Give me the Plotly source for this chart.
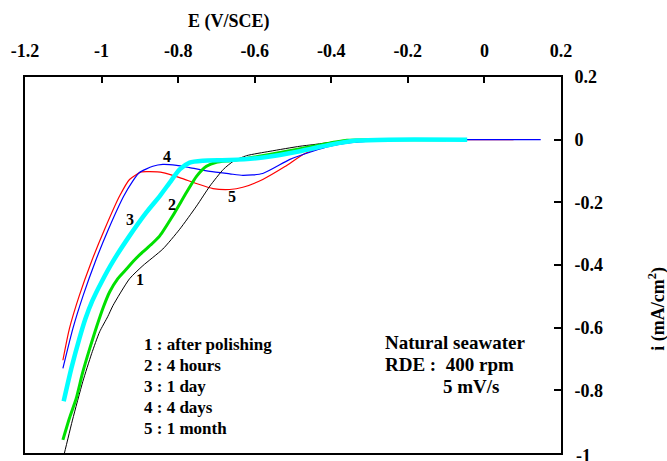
import plotly.graph_objects as go

# ---- data (E in V/SCE, i in mA/cm2) ----
# 1 : after polishing
e1 = [-1.107, -1.099, -1.076, -1.049, -1.026, -1.005, -0.984, -0.970, -0.927, -0.892, -0.840,
      -0.796, -0.752, -0.717, -0.682, -0.656, -0.621, -0.560, -0.482, -0.448, -0.359, -0.291,
      -0.100]
i1 = [-1.048, -1.010, -0.895, -0.772, -0.683, -0.613, -0.565, -0.529, -0.444, -0.402, -0.349,
      -0.286, -0.212, -0.148, -0.095, -0.069, -0.051, -0.037, -0.021, -0.016, -0.002, 0.0,
      0.0]
# 2 : 4 hours
e2 = [-1.101, -1.084, -1.066, -1.050, -1.031, -1.013, -0.995, -0.979, -0.958, -0.935, -0.914,
      -0.893, -0.869, -0.848, -0.814, -0.778, -0.752, -0.726, -0.700, -0.665, -0.621, -0.534,
      -0.448, -0.359, -0.281, -0.100]
i2 = [-0.958, -0.889, -0.825, -0.746, -0.667, -0.597, -0.533, -0.486, -0.444, -0.413, -0.384,
      -0.359, -0.333, -0.307, -0.243, -0.168, -0.117, -0.085, -0.072, -0.067, -0.060, -0.041,
      -0.021, -0.002, 0.0, 0.0]
# 3 : 1 day
e3 = [-1.099, -1.079, -1.058, -1.042, -1.024, -1.000, -0.971, -0.927, -0.883, -0.848, -0.822,
      -0.796, -0.770, -0.736, -0.665, -0.579, -0.482, -0.403, -0.333, -0.250, -0.045]
i3 = [-0.835, -0.730, -0.635, -0.571, -0.514, -0.454, -0.390, -0.307, -0.232, -0.180, -0.137,
      -0.095, -0.073, -0.067, -0.065, -0.057, -0.037, -0.016, -0.003, 0.0, 0.0]
# 4 : 4 days
e4 = [-1.101, -1.075, -1.048, -1.017, -0.982, -0.942, -0.919, -0.901, -0.866, -0.840, -0.804,
      -0.770, -0.717, -0.665, -0.631, -0.579, -0.508, -0.448, -0.403, -0.343, -0.272, -0.200,
      0.147]
i4 = [-0.730, -0.603, -0.497, -0.391, -0.286, -0.180, -0.133, -0.105, -0.085, -0.079, -0.082,
      -0.089, -0.101, -0.109, -0.114, -0.108, -0.063, -0.037, -0.021, -0.009, -0.002, 0.0,
      0.0]
# 5 : 1 month
e5 = [-1.101, -1.084, -1.058, -1.027, -0.992, -0.953, -0.927, -0.896, -0.874, -0.840, -0.796,
      -0.752, -0.709, -0.665, -0.631, -0.579, -0.521, -0.469, -0.412, -0.359, -0.272, -0.200,
      0.076]
i5 = [-0.704, -0.603, -0.497, -0.391, -0.286, -0.180, -0.127, -0.103, -0.102, -0.105, -0.121,
      -0.140, -0.156, -0.159, -0.152, -0.127, -0.086, -0.044, -0.021, -0.005, -0.001, 0.0,
      0.0]

x_ticks = [-1.2, -1.0, -0.8, -0.6, -0.4, -0.2, 0.0, 0.2]
x_ticktext = ["-1.2", "-1", "-0.8", "-0.6", "-0.4", "-0.2", "0", "0.2"]
y_ticks = [0.2, 0.0, -0.2, -0.4, -0.6, -0.8, -1.0]
y_ticktext = ["0.2", "0", "-0.2", "-0.4", "-0.6", "-0.8", "-1"]

curve_labels = ["1", "2", "3", "4", "5"]
legend_lines = ["1 : after polishing", "2 : 4 hours", "3 : 1 day", "4 : 4 days", "5 : 1 month"]
note_lines = ["Natural seawater", "RDE :  400 rpm", "5 mV/s"]

W, H = 667, 461
L, R, T, B = 25, 561, 77, 455
FONT = "Liberation Serif"


def px(xp, yp):
    return (xp - L) / (R - L), (B - yp) / (B - T)


def bold(t):
    return "<b>" + t + "</b>" if t else ""


fig = go.Figure()
series = [
    (e1, i1, "black", 1.0),
    (e2, i2, "#00e000", 3.0),
    (e3, i3, "#00ffff", 4.5),
    (e4, i4, "#0000ff", 1.2),
    (e5, i5, "#ff0000", 1.2),
]
for idx in [4, 3, 0, 1, 2]:
    xs, ys, col, w = series[idx]
    fig.add_trace(go.Scatter(x=xs, y=ys, mode="lines",
                             line=dict(color=col, width=w, shape="spline", smoothing=0.6),
                             showlegend=False, hoverinfo="skip"))

fig.update_layout(
    width=W, height=H,
    margin=dict(l=L, r=W - R, t=T, b=H - B),
    paper_bgcolor="white", plot_bgcolor="white",
    font=dict(family=FONT, color="black"),
    showlegend=False,
)
fig.update_xaxes(range=[-1.2, 0.2], side="top", showgrid=False, zeroline=False,
                 showline=True, linecolor="black", linewidth=2, mirror=True,
                 ticks="inside", ticklen=6, tickwidth=1.5, tickcolor="black",
                 tickvals=x_ticks, ticktext=[bold(t) for t in x_ticktext], ticklabelstandoff=11,
                 tickfont=dict(family=FONT, size=18, color="black"))
# bottom label "-1" is drawn as an annotation (plotly hides it at the figure edge)
fig.update_yaxes(range=[-1.0, 0.2], side="right", showgrid=False, zeroline=False,
                 showline=True, linecolor="black", linewidth=2, mirror=True,
                 ticks="inside", ticklen=7, tickwidth=1.5, tickcolor="black",
                 tickvals=y_ticks[:-1], ticktext=[bold(t) for t in y_ticktext[:-1]],
                 ticklabelstandoff=8,
                 tickfont=dict(family=FONT, size=18, color="black"))

ann = []


def add_text(text, xp, yp, size, xanchor="center", angle=0):
    xx, yy = px(xp, yp)
    ann.append(dict(text=bold(text), x=xx, y=yy, xref="paper", yref="paper",
                    xanchor=xanchor, yanchor="middle", showarrow=False, textangle=angle,
                    font=dict(family=FONT, size=size, color="black")))


add_text("E (V/SCE)", 229, 21, 18)
add_text("i (mA/cm<sup>2</sup>)", 657, 310, 18, angle=-90)
ann.append(dict(text=bold(y_ticktext[-1]), x=1.0, y=y_ticks[-1], xref="paper", yref="y",
                xanchor="left", yanchor="middle", xshift=13, yshift=-3, showarrow=False,
                font=dict(family=FONT, size=18, color="black")))

label_pos = [(140, 281), (172, 205), (130, 220), (167, 157), (232, 197)]
for t, (xp, yp) in zip(curve_labels, label_pos):
    add_text(t, xp, yp, 16)

for k, t in enumerate(legend_lines):
    add_text(t, 142, 345.5 + 21.2 * k, 17, xanchor="left")

add_text(note_lines[0], 383, 344, 19, xanchor="left")
add_text(note_lines[1], 383, 366.5, 19, xanchor="left")
add_text(note_lines[2], 441, 388.5, 19, xanchor="left")

fig.update_layout(annotations=ann)
fig.write_html("out.html")
